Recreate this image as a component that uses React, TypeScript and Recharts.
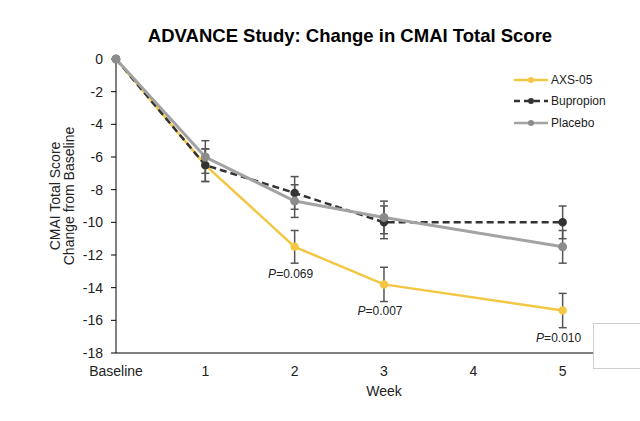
import { LineChart, Line, XAxis, YAxis, ErrorBar, LabelList, Label } from 'recharts';

const weeks = [0, 1, 2, 3, 5];
const axs = [0, -6.5, -11.5, -13.8, -15.4];
const axsErr = [null, 1, 1, 1.05, 1.05];
const bupropion = [0, -6.5, -8.2, -10, -10];
const bupropionErr = [null, 1, 1, 1, 1];
const placebo = [0, -6, -8.7, -9.7, -11.5];
const placeboErr = [null, 1, 1, 1, 1];
const pLabels = ['', '', '0.069', '0.007', '0.010'];
const xTicks = [0, 1, 2, 3, 4, 5];
const yTicks = [0, -2, -4, -6, -8, -10, -12, -14, -16, -18];

const data = weeks.map((w, i) => ({
    week: w,
    axs: axs[i],
    axsErr: axsErr[i],
    bupropion: bupropion[i],
    bupropionErr: bupropionErr[i],
    placebo: placebo[i],
    placeboErr: placeboErr[i],
    p: pLabels[i],
}));

const series = [
    { key: 'axs', name: 'AXS-05', color: '#F3C744', dot: '#F3C744', dash: undefined as string | undefined },
    { key: 'bupropion', name: 'Bupropion', color: '#333333', dot: '#333333', dash: '6 4' },
    { key: 'placebo', name: 'Placebo', color: '#A3A3A3', dot: '#8C8C8C', dash: undefined },
];

const FONT = '"Liberation Sans", Arial, sans-serif';

function LegendBox() {
    return (
        <div style={{ position: 'absolute', left: 514, top: 69, fontFamily: FONT, fontSize: 12, color: '#222' }}>
            {series.map(s => (
                <div key={s.key} style={{ display: 'flex', alignItems: 'center', height: 21.5 }}>
                    <svg width={36} height={10}>
                        <line x1={0} y1={5} x2={34} y2={5} stroke={s.color} strokeWidth={2.5} strokeDasharray={s.dash} />
                        <circle cx={17} cy={5} r={3} fill={s.dot} />
                    </svg>
                    <span style={{ marginLeft: 1 }}>{s.name}</span>
                </div>
            ))}
        </div>
    );
}

function PLabel(props: any) {
    const { x, y, value } = props;
    if (!value) return null;
    return (
        <text x={x - 4} y={y + 31} textAnchor="middle" fontSize={12} fontFamily={FONT} fill="#222">
            <tspan fontStyle="italic">P</tspan>={value}
        </text>
    );
}

export default function App() {
    return (
        <div style={{ position: 'fixed', left: 0, top: 0, width: 640, height: 421, background: '#fff' }}>
            <div style={{ position: 'absolute', top: 25, left: 350, transform: 'translateX(-50%)', whiteSpace: 'nowrap', fontFamily: FONT, fontWeight: 'bold', fontSize: 18.5, color: '#000' }}>
                ADVANCE Study: Change in CMAI Total Score
            </div>
            <LineChart width={640} height={421} data={data} margin={{ top: 59, right: 47, bottom: 0, left: 0 }}>
                <XAxis
                    dataKey="week"
                    type="number"
                    domain={[0, 5.34]}
                    ticks={xTicks}
                    tickFormatter={(v: number) => (v === 0 ? 'Baseline' : String(v))}
                    tickLine={false}
                    tickSize={0}
                    tickMargin={13}
                    height={68}
                    stroke="#000"
                    tick={{ fill: '#222', fontSize: 14, fontFamily: FONT }}
                >
                    <Label
                        content={() => (
                            <text x={384} y={396} textAnchor="middle" fontSize={14} fontFamily={FONT} fill="#222">Week</text>
                        )}
                    />
                </XAxis>
                <YAxis
                    type="number"
                    domain={[-18, 0]}
                    ticks={yTicks}
                    width={116}
                    tickSize={5}
                    tickMargin={8}
                    stroke="#000"
                    tick={{ fill: '#222', fontSize: 14, fontFamily: FONT }}
                >
                    <Label
                        content={() => (
                            <text transform="translate(62,196) rotate(-90)" textAnchor="middle" fontSize={14} fontFamily={FONT} fill="#222">
                                <tspan x={0} dy={-2}>CMAI Total Score</tspan>
                                <tspan x={0} dy={14}>Change from Baseline</tspan>
                            </text>
                        )}
                    />
                </YAxis>
                <Line
                    dataKey="axs"
                    name="AXS-05"
                    stroke="#F3C744"
                    strokeWidth={2.5}
                    dot={{ r: 3, fill: '#F3C744', stroke: '#F3C744' }}
                    isAnimationActive={false}
                >
                    <ErrorBar dataKey="axsErr" direction="y" width={4} stroke="#555" strokeWidth={1.5} />
                    <LabelList dataKey="p" content={PLabel} />
                </Line>
                <Line
                    dataKey="bupropion"
                    name="Bupropion"
                    stroke="#333333"
                    strokeWidth={2.5}
                    strokeDasharray="7 4"
                    dot={{ r: 3, fill: '#333333', stroke: '#333333', strokeDasharray: '' }}
                    isAnimationActive={false}
                >
                    <ErrorBar dataKey="bupropionErr" direction="y" width={4} stroke="#555" strokeWidth={1.5} />
                </Line>
                <Line
                    dataKey="placebo"
                    name="Placebo"
                    stroke="#A3A3A3"
                    strokeWidth={3}
                    dot={{ r: 3, fill: '#8C8C8C', stroke: '#8C8C8C' }}
                    isAnimationActive={false}
                >
                    <ErrorBar dataKey="placeboErr" direction="y" width={4} stroke="#555" strokeWidth={1.5} />
                </Line>
            </LineChart>
            <LegendBox />
            <div style={{ position: 'absolute', left: 593, top: 323, width: 60, height: 44, border: '1px solid #cfcfcf', background: '#fff' }} />
        </div>
    );
}
